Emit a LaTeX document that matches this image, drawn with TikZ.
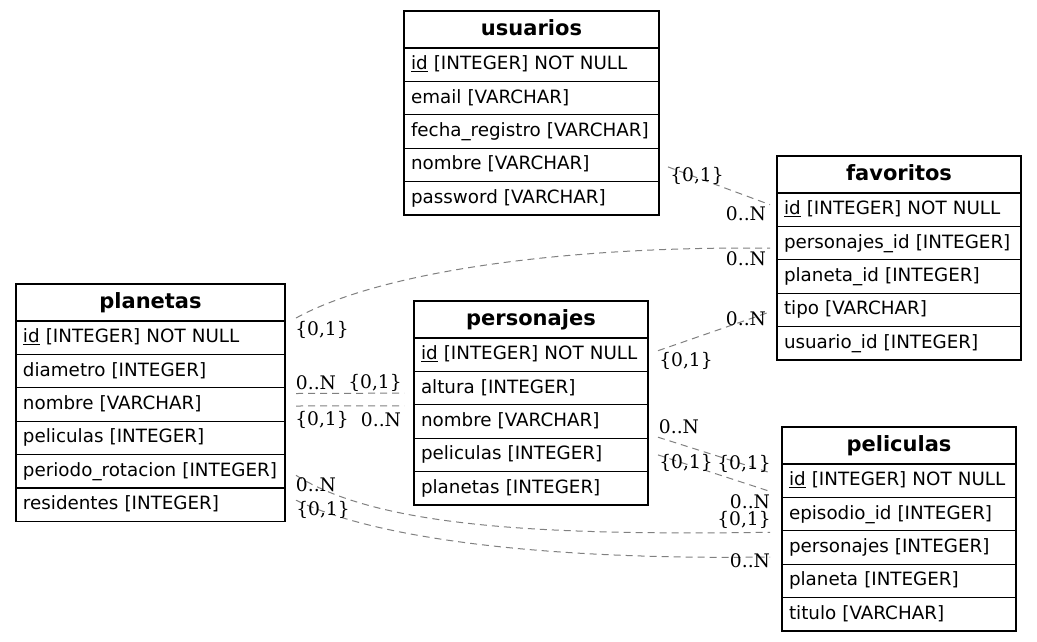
\documentclass[tikz,border=0pt]{standalone}
\usepackage{fontspec}
\setmainfont{DejaVu Sans}
\newfontfamily\cardfont{DejaVu Serif}
\usetikzlibrary{positioning,calc}

\tikzset{
	tblhead/.style={draw, line width=1.3pt, outer sep=0pt, inner xsep=7pt, inner ysep=0pt,
		text width=#1, align=center, minimum height=37pt, text height=15pt, text depth=4pt,
		font=\fontsize{21}{24}\selectfont\bfseries},
	tblrow/.style={draw, line width=1.3pt, outer sep=0pt, inner xsep=7pt, inner ysep=0pt,
		text width=#1, align=left, minimum height=33.4pt, text height=14pt, text depth=4pt,
		font=\fontsize{18.3}{22}\selectfont,
		execute at begin node={\hyphenpenalty=10000\exhyphenpenalty=10000}},
	rel/.style={gray, line width=1pt, dash pattern=on 7pt off 5pt},
	card/.style={inner sep=0pt, font=\cardfont\fontsize{18.67}{22}\selectfont},
}

\begin{document}
\begin{tikzpicture}[x=1pt,y=-1pt]
				\useasboundingbox[fill=white] (0,0) rectangle (1037,641);

				% usuarios
				\node[tblhead=241pt, anchor=north west] (us0) at (404,11) {usuarios};
				\node[tblrow=241pt, below=0pt of us0] (us1) {\underline{id} [INTEGER] NOT NULL};
				\node[tblrow=241pt, below=0pt of us1] (us2) {email [VARCHAR]};
				\node[tblrow=241pt, below=0pt of us2] (us3) {fecha\_registro [VARCHAR]};
				\node[tblrow=241pt, below=0pt of us3] (us4) {nombre [VARCHAR]};
				\node[tblrow=241pt, below=0pt of us4] (us5) {password [VARCHAR]};

				% favoritos
				\node[tblhead=230pt, anchor=north west] (fav0) at (777,156) {favoritos};
				\node[tblrow=230pt, below=0pt of fav0] (fav1) {\underline{id} [INTEGER] NOT NULL};
				\node[tblrow=230pt, below=0pt of fav1] (fav2) {personajes\_id [INTEGER]};
				\node[tblrow=230pt, below=0pt of fav2] (fav3) {planeta\_id [INTEGER]};
				\node[tblrow=230pt, below=0pt of fav3] (fav4) {tipo [VARCHAR]};
				\node[tblrow=230pt, below=0pt of fav4] (fav5) {usuario\_id [INTEGER]};

				% planetas
				\node[tblhead=255pt, anchor=north west] (pla0) at (16,284) {planetas};
				\node[tblrow=255pt, below=0pt of pla0] (pla1) {\underline{id} [INTEGER] NOT NULL};
				\node[tblrow=255pt, below=0pt of pla1] (pla2) {diametro [INTEGER]};
				\node[tblrow=255pt, below=0pt of pla2] (pla3) {nombre [VARCHAR]};
				\node[tblrow=255pt, below=0pt of pla3] (pla4) {peliculas [INTEGER]};
				\node[tblrow=255pt, below=0pt of pla4] (pla5) {periodo\_rotacion [INTEGER]};
				\node[tblrow=255pt, below=0pt of pla5] (pla6) {residentes [INTEGER]};

				% personajes
				\node[tblhead=220pt, anchor=north west] (per0) at (414,301) {personajes};
				\node[tblrow=220pt, below=0pt of per0] (per1) {\underline{id} [INTEGER] NOT NULL};
				\node[tblrow=220pt, below=0pt of per1] (per2) {altura [INTEGER]};
				\node[tblrow=220pt, below=0pt of per2] (per3) {nombre [VARCHAR]};
				\node[tblrow=220pt, below=0pt of per3] (per4) {peliculas [INTEGER]};
				\node[tblrow=220pt, below=0pt of per4] (per5) {planetas [INTEGER]};

				% peliculas
				\node[tblhead=220pt, anchor=north west] (pel0) at (782,427) {peliculas};
				\node[tblrow=220pt, below=0pt of pel0] (pel1) {\underline{id} [INTEGER] NOT NULL};
				\node[tblrow=220pt, below=0pt of pel1] (pel2) {episodio\_id [INTEGER]};
				\node[tblrow=220pt, below=0pt of pel2] (pel3) {personajes [INTEGER]};
				\node[tblrow=220pt, below=0pt of pel3] (pel4) {planeta [INTEGER]};
				\node[tblrow=220pt, below=0pt of pel4] (pel5) {titulo [VARCHAR]};

				% relations
				\draw[rel] ($(us4.east)+(9,2)$) -- ($(fav1.west)+(-7,-5)$);
				\draw[rel] ($(pla1.north east)+(11,-3)$) .. controls +(84,-46) and +(-210,-2) .. ($(fav2.west)+(-7,5)$);
				\draw[rel] ($(per1.east)+(10,-4)$) -- ($(fav4.west)+(-7,2)$);
				\draw[rel] ($(pla3.east)+(11,-11)$) -- ($(per2.west)+(-10,5)$);
				\draw[rel] ($(pla3.east)+(11,1.5)$) -- ($(per2.south west)+(-10,1)$);
				\draw[rel] ($(per4.north east)+(10,-1)$) -- ($(pel1.west)+(-12,-8)$);
				\draw[rel] ($(per4.east)+(10,0)$) -- ($(pel2.north west)+(-12,-6)$);
				\draw[rel] ($(pla5.east)+(11,4)$) .. controls +(84,53) and +(-220,3) .. ($(pel3.north west)+(-12,1.5)$);
				\draw[rel] ($(pla6.east)+(11,-4.5)$) .. controls +(84,40) and +(-220,3) .. ($(pel3.west)+(-12,9.5)$);

				% cardinalities
				\node[card] (c1a) at (697,176) {\{0,1\}};
				\node[card] (c1b) at (746,214) {0..N};
				\node[card] (c2a) at (322,330) {\{0,1\}};
				\node[card] (c2b) at (746,259) {0..N};
				\node[card] (c3a) at (686,361) {\{0,1\}};
				\node[card] (c3b) at (746,319) {0..N};
				\node[card] (c4a) at (316,383) {0..N};
				\node[card] (c4b) at (375,383) {\{0,1\}};
				\node[card] (c5a) at (322,420) {\{0,1\}};
				\node[card] (c5b) at (381,420) {0..N};
				\node[card] (c6a) at (679,427) {0..N};
				\node[card] (c6b) at (744,464) {\{0,1\}};
				\node[card] (c7a) at (686,463) {\{0,1\}};
				\node[card] (c7b) at (750,502) {0..N};
				\node[card] (c8a) at (316,485) {0..N};
				\node[card] (c8b) at (744,520) {\{0,1\}};
				\node[card] (c9a) at (323,510) {\{0,1\}};
				\node[card] (c9b) at (750,561) {0..N};
\end{tikzpicture}
\end{document}
